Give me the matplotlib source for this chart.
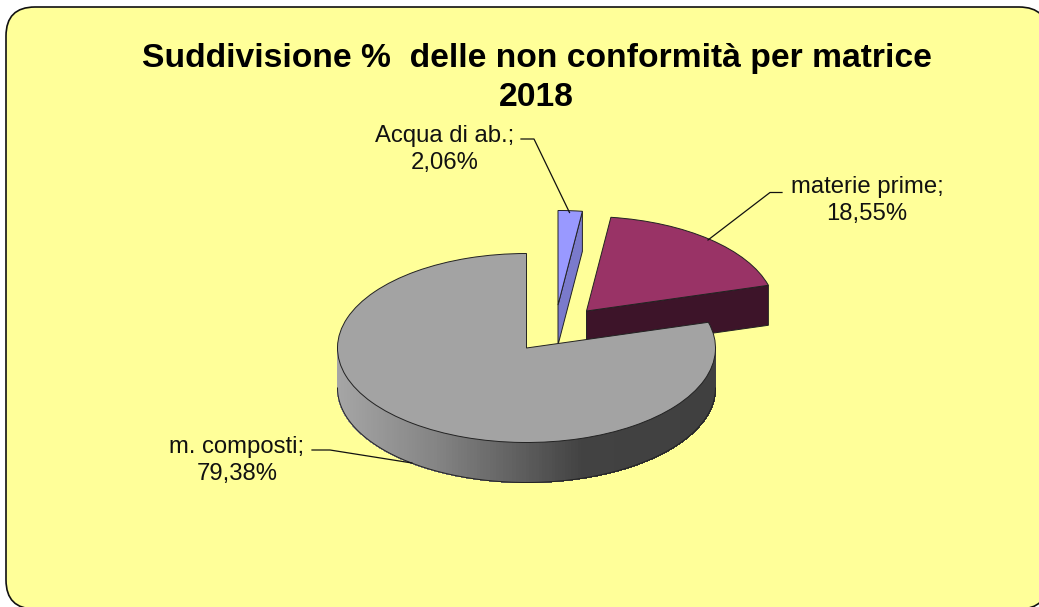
import matplotlib
matplotlib.use("Agg")
import matplotlib.pyplot as plt
import numpy as np
from matplotlib.colors import LinearSegmentedColormap
from matplotlib.patches import FancyBboxPatch, Polygon

# Data
categories = ["Acqua di ab.", "materie prime", "m. composti"]
percentages = [2.06, 18.55, 79.38]
title_text = "Suddivisione %  delle non conformità per matrice\n2018"

# Style
W, H = 1039, 607
CX, CY, RX, RY = 526.5, 348, 189, 94.5   # pie centre and radii, pixels
DEPTH = 40 / RY
colors = ["#9999FF", "#993366", "#A3A3A3"]
side_colors = ["#7A7ACC", "#3D1429", "#A3A3A3"]
offsets_px = [(31.5, -43), (60, -37), (0, 0)]
label_pos = [(445, 149.5), (867, 200.5), (237, 460.5)]
leaders = [[(521, 139), (534, 139), (569.5, 212.5)],
           [(782, 192.5), (770, 192.5), (708, 240)],
           [(312, 450), (330, 450), (412, 463)]]
rim_cmap = LinearSegmentedColormap.from_list(
    "rim", [(0, "#A6A6A6"), (0.25, "#868686"), (0.65, "#424242"), (1, "#404040")])

plt.rcParams["font.family"] = ["Liberation Sans", "DejaVu Sans"]
fig = plt.figure(figsize=(W / 100, H / 100), dpi=100, facecolor="white")

# Background frame, in pixel coordinates
bg = fig.add_axes([0, 0, 1, 1])
bg.set_xlim(0, W), bg.set_ylim(H, 0)
bg.axis("off")
bg.add_patch(FancyBboxPatch((6, 7), 1042, 602,
                            boxstyle="round,pad=0,rounding_size=29",
                            facecolor="#FFFF99", edgecolor="#111111", linewidth=1.2))

# Pie, one unit of the axes is one radius (so the circle comes out squashed)
ax = fig.add_axes([0, 0, 1, 1])
ax.patch.set_alpha(0)
wedges, _ = ax.pie(percentages, startangle=90, counterclock=False, colors=colors,
                   wedgeprops={"edgecolor": "#222222", "linewidth": 0.7})
ax.set_aspect("auto")
ax.set_xlim(-CX / RX, (W - CX) / RX)
ax.set_ylim((CY - H) / RY, CY / RY)
ax.axis("off")

for i, w in enumerate(wedges):
    dx, dy = offsets_px[i][0] / RX, -offsets_px[i][1] / RY
    w.set_center((dx, dy))
    base = 3 if i == 2 else 1
    w.set_zorder(base + 1)

    if i < 2:
        # cut face at the end of the slice which looks to the viewer
        a = np.radians(w.theta1)
        ox, oy = dx + np.cos(a), dy + np.sin(a)
        ax.add_patch(Polygon([(dx, dy), (ox, oy), (ox, oy - DEPTH), (dx, dy - DEPTH)],
                             facecolor=side_colors[i], edgecolor="#222222",
                             linewidth=0.7, zorder=base))
    else:
        # front rim of the big slice, short strips for the shading
        th = np.radians(np.arange(w.theta1, w.theta2, 1.0))
        th = th[np.sin(th) <= 1e-9]
        for a0, a1 in zip(th[:-1], th[1:]):
            x0, x1 = np.cos(a0), np.cos(a1)
            y0, y1 = np.sin(a0), np.sin(a1)
            col = rim_cmap((0.5 * (x0 + x1) + 1) / 2)
            ax.fill([x0, x1, x1, x0], [y0, y1, y1 - DEPTH, y0 - DEPTH],
                    facecolor=col, edgecolor=col, linewidth=0.5,
                    antialiased=False, zorder=base)
        ax.plot(np.cos(th), np.sin(th) - DEPTH, color="#222222", lw=0.7, zorder=base + 0.5)

# Text on top
top = fig.add_axes([0, 0, 1, 1])
top.patch.set_alpha(0)
top.set_xlim(0, W), top.set_ylim(H, 0)
top.axis("off")
top.text(536.5, 78, title_text, ha="center", va="center", fontsize=24.2, fontweight="bold",
         color="black", linespacing=1.32)
for name, pct, pos, line in zip(categories, percentages, label_pos, leaders):
    label = f"{name};\n" + f"{pct:.2f}%".replace(".", ",")
    top.text(pos[0], pos[1], label, ha="center", va="center", fontsize=17.2,
             color="#111111", linespacing=1.25)
    xs, ys = zip(*line)
    top.plot(xs, ys, color="#111111", lw=0.9)

fig.savefig("out.png", dpi=100)
